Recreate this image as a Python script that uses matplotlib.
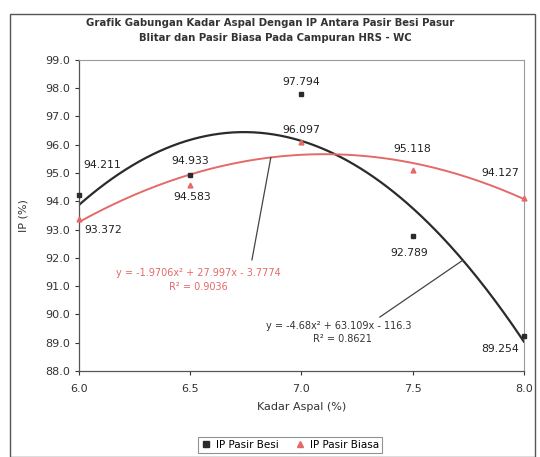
import numpy as np
import matplotlib
matplotlib.use('Agg')
import matplotlib.pyplot as plt
from matplotlib.patches import Rectangle

plt.rcParams['font.family'] = ['DejaVu Sans']

kadar = [6.0, 6.5, 7.0, 7.5, 8.0]
ip_besi = [94.211, 94.933, 97.794, 92.789, 89.254]
ip_biasa = [93.372, 94.583, 96.097, 95.118, 94.127]

eq_besi = "y = -4.68x² + 63.109x - 116.3"
r2_besi = "R² = 0.8621"
eq_biasa = "y = -1.9706x² + 27.997x - 3.7774"
r2_biasa = "R² = 0.9036"

black = '#2b2b2b'
red = '#e46a6a'

fig = plt.figure(figsize=(5.4, 4.57), dpi=100)
ax = fig.add_axes([0.146, 0.188, 0.824, 0.681])

# polynomial trend lines (order 2)
xs = np.linspace(6.0, 8.0, 200)
p_besi = np.polyfit(kadar, ip_besi, 2)
p_biasa = np.polyfit(kadar, ip_biasa, 2)
ax.plot(xs, np.polyval(p_besi, xs), color=black, lw=1.6, zorder=2)
ax.plot(xs, np.polyval(p_biasa, xs), color=red, lw=1.4, zorder=2)

ax.plot(kadar, ip_besi, 's', color=black, ms=3.5, zorder=3, clip_on=False, label='IP Pasir Besi')
ax.plot(kadar, ip_biasa, '^', color=red, ms=3.5, zorder=3, clip_on=False, label='IP Pasir Biasa')

# data labels (offset in pixels)
off_besi = [(23, 30), (0, 14), (0, 12), (-3, -17), (-24, -13)]
off_biasa = [(24, -11), (2, -12), (0, 12), (0, 21), (-24, 25)]
for x, y, o in zip(kadar, ip_besi, off_besi):
    ax.annotate(f"{y:.3f}", (x, y), xytext=o, textcoords='offset pixels',
                ha='center', va='center', fontsize=7.8, color='#222222')
for x, y, o in zip(kadar, ip_biasa, off_biasa):
    ax.annotate(f"{y:.3f}", (x, y), xytext=o, textcoords='offset pixels',
                ha='center', va='center', fontsize=7.8, color='#222222')

# trendline equations with leader lines
ax.text(6.539, 91.47, eq_biasa, color=red, fontsize=7, ha='center', va='center')
ax.text(6.539, 90.97, r2_biasa, color=red, fontsize=7, ha='center', va='center')
ax.plot([6.778, 6.863], [91.93, np.polyval(p_biasa, 6.863)], color='#444444', lw=0.9)

ax.text(7.169, 89.59, eq_besi, color='#333333', fontsize=7, ha='center', va='center')
ax.text(7.186, 89.13, r2_besi, color='#333333', fontsize=7, ha='center', va='center')
ax.plot([7.353, 7.726], [89.91, np.polyval(p_besi, 7.726)], color='#444444', lw=0.9)

ax.set_xlim(6.0, 8.0)
ax.set_ylim(88.0, 99.0)
ax.set_xticks([6.0, 6.5, 7.0, 7.5, 8.0])
ax.set_yticks(np.arange(88.0, 99.5, 1.0))
ax.xaxis.set_major_formatter(plt.FormatStrFormatter('%.1f'))
ax.yaxis.set_major_formatter(plt.FormatStrFormatter('%.1f'))
ax.tick_params(labelsize=8, colors='#333333', length=3, width=0.8)
ax.tick_params(axis='x', pad=6)

for side in ['top', 'right']:
    ax.spines[side].set_color('#9a9a9a')
    ax.spines[side].set_linewidth(0.8)
for side in ['left', 'bottom']:
    ax.spines[side].set_color('#555555')
    ax.spines[side].set_linewidth(0.9)

ax.set_xlabel("Kadar Aspal (%)", fontsize=8, color='#333333', labelpad=6)
ax.set_ylabel("IP (%)", fontsize=8, color='#333333', labelpad=12)

fig.text(0.5, 1 - 23 / 457, "Grafik Gabungan Kadar Aspal Dengan IP Antara Pasir Besi Pasur",
         ha='center', va='center', fontsize=7.3, fontweight='bold', color='#333333')
fig.text(0.51, 1 - 38 / 457, "Blitar dan Pasir Biasa Pada Campuran HRS - WC",
         ha='center', va='center', fontsize=7.3, fontweight='bold', color='#333333')

# outer chart border
fig.patches.append(Rectangle((10 / 540, 0), 525 / 540, 1 - 14 / 457, transform=fig.transFigure,
                             fill=False, edgecolor='#555555', lw=1.0))

leg = fig.legend(loc='center', bbox_to_anchor=(290 / 540, 1 - 445 / 457), ncol=2,
                 fontsize=7.5, frameon=True, fancybox=False, edgecolor='#777777',
                 handlelength=1.0, handletextpad=0.4, columnspacing=1.6,
                 borderpad=0.3, markerscale=1.2)
leg.get_frame().set_linewidth(0.8)

fig.savefig('out.png', dpi=100)
